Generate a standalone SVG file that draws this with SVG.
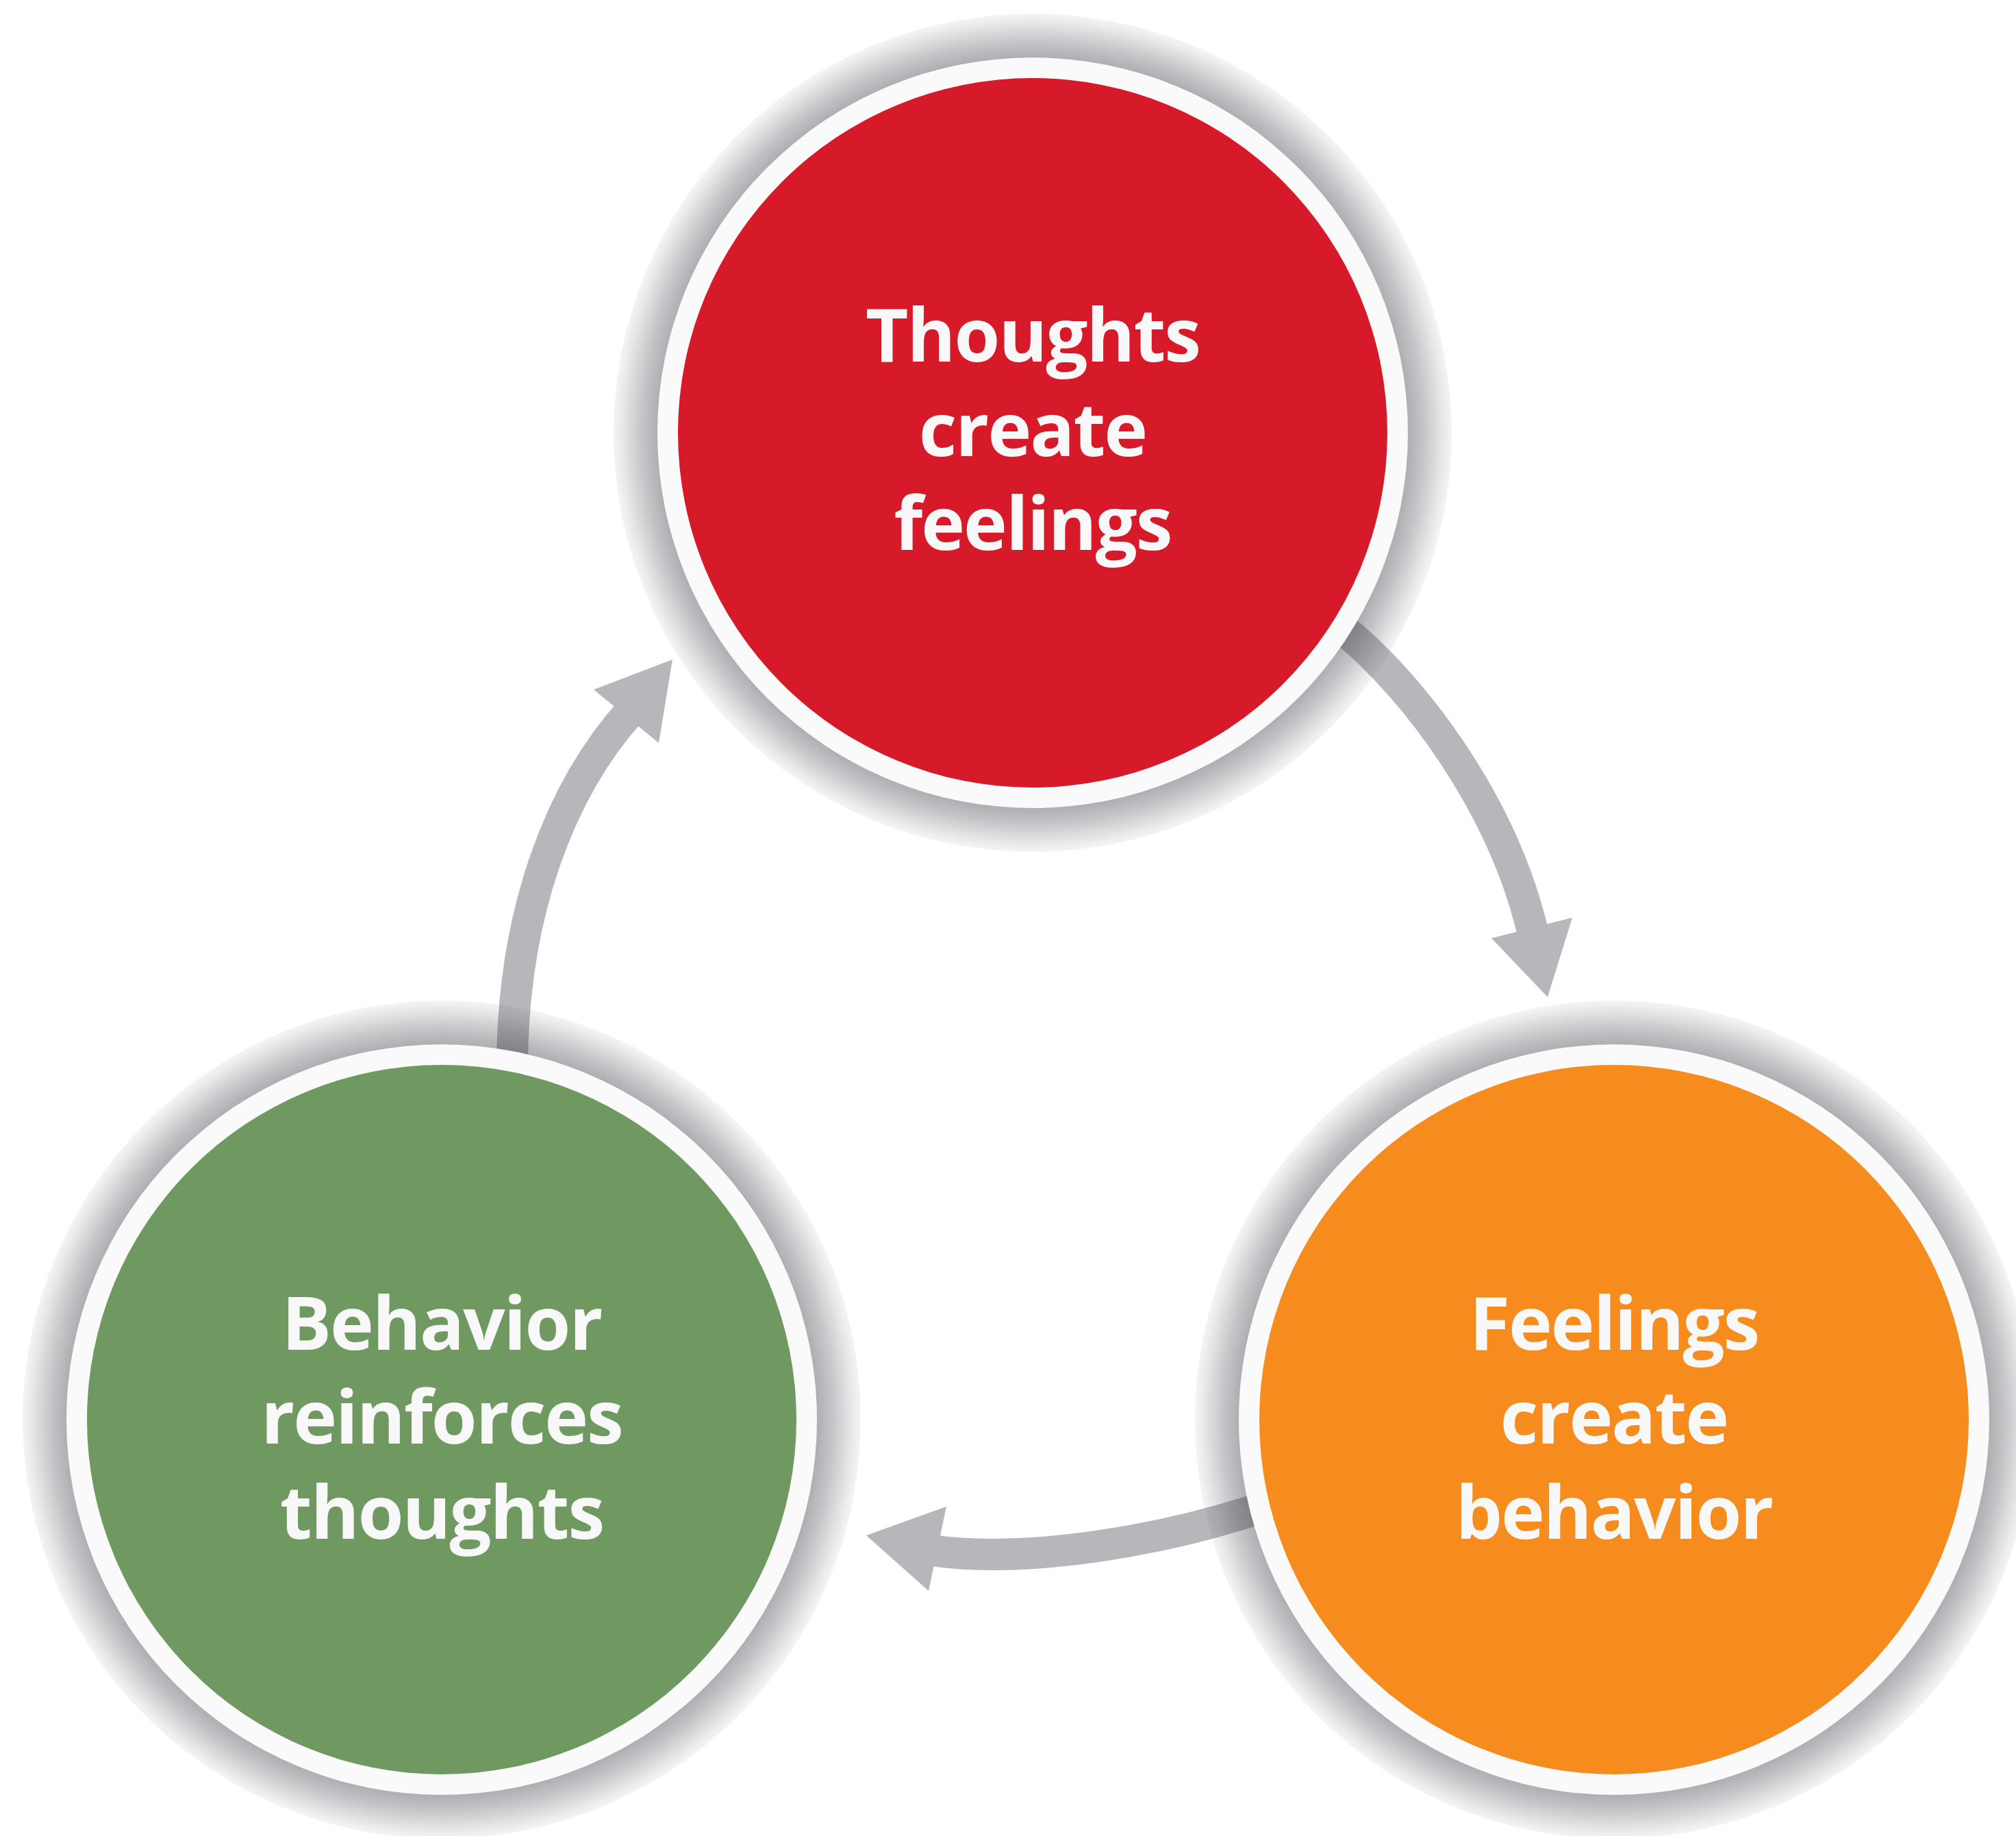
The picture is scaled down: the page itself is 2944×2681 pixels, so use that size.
<svg xmlns="http://www.w3.org/2000/svg" width="2944" height="2681" viewBox="0 0 2944 2681">
  <defs>
    <radialGradient id="shadow" cx="0.5" cy="0.5" r="0.5">
      <stop offset="0.88" stop-color="#2a2a35" stop-opacity="0.42"/>
      <stop offset="0.93" stop-color="#2a2a35" stop-opacity="0.28"/>
      <stop offset="0.985" stop-color="#2a2a35" stop-opacity="0.09"/>
      <stop offset="1" stop-color="#2a2a35" stop-opacity="0.05"/>
    </radialGradient>
    <style>
      .band { fill: none; stroke: #b7b7bb; stroke-width: 46; stroke-linecap: butt; }
      .head { fill: #b7b7bb; }
      .shadow { fill: url(#shadow); }
      .ring { fill: #fafafa; }
      .label { font-family: "Open Sans", "Noto Sans", "Liberation Sans", sans-serif; font-weight: 700; font-size: 108px; letter-spacing: -2px; fill: #f8f8f8; text-anchor: middle; }
    </style>
  </defs>
  <rect width="2944" height="2681" fill="#ffffff"/>

  <g id="connectors">
    <g id="arrow-thoughts-feelings">
      <path class="band" d="M 1964 921 C 2060 1000, 2195 1170, 2240 1368"/>
      <polygon class="head" points="2178,1370 2296,1340 2260,1456"/>
    </g>
    <g id="arrow-feelings-behavior">
      <path class="band" d="M 1850 2199 C 1700 2250, 1500 2284, 1360 2264"/>
      <polygon class="head" points="1382,2200 1265,2242 1356,2323"/>
    </g>
    <g id="arrow-behavior-thoughts">
      <path class="band" d="M 748 1560 C 748 1330, 820 1150, 922 1037"/>
      <polygon class="head" points="867,1007 962,1085 982,963"/>
    </g>
  </g>

  <g id="node-thoughts">
    <circle class="shadow" cx="1508" cy="632" r="612"/>
    <circle class="ring" cx="1508" cy="632" r="548"/>
    <circle cx="1508" cy="632" r="518" fill="#d71a2a"/>
    <text class="label" x="1508" y="528">Thoughts</text>
    <text class="label" x="1508" y="666">create</text>
    <text class="label" x="1508" y="803">feelings</text>
  </g>

  <g id="node-feelings">
    <circle class="shadow" cx="2357" cy="2073" r="612"/>
    <circle class="ring" cx="2357" cy="2073" r="548"/>
    <circle cx="2357" cy="2073" r="518" fill="#f68c1e"/>
    <text class="label" x="2357" y="1971">Feelings</text>
    <text class="label" x="2357" y="2108">create</text>
    <text class="label" x="2357" y="2247">behavior</text>
  </g>

  <g id="node-behavior">
    <circle class="shadow" cx="645" cy="2073" r="612"/>
    <circle class="ring" cx="645" cy="2073" r="548"/>
    <circle cx="645" cy="2073" r="518" fill="#709962"/>
    <text class="label" x="645" y="1971">Behavior</text>
    <text class="label" x="645" y="2108">reinforces</text>
    <text class="label" x="645" y="2247">thoughts</text>
  </g>
</svg>
